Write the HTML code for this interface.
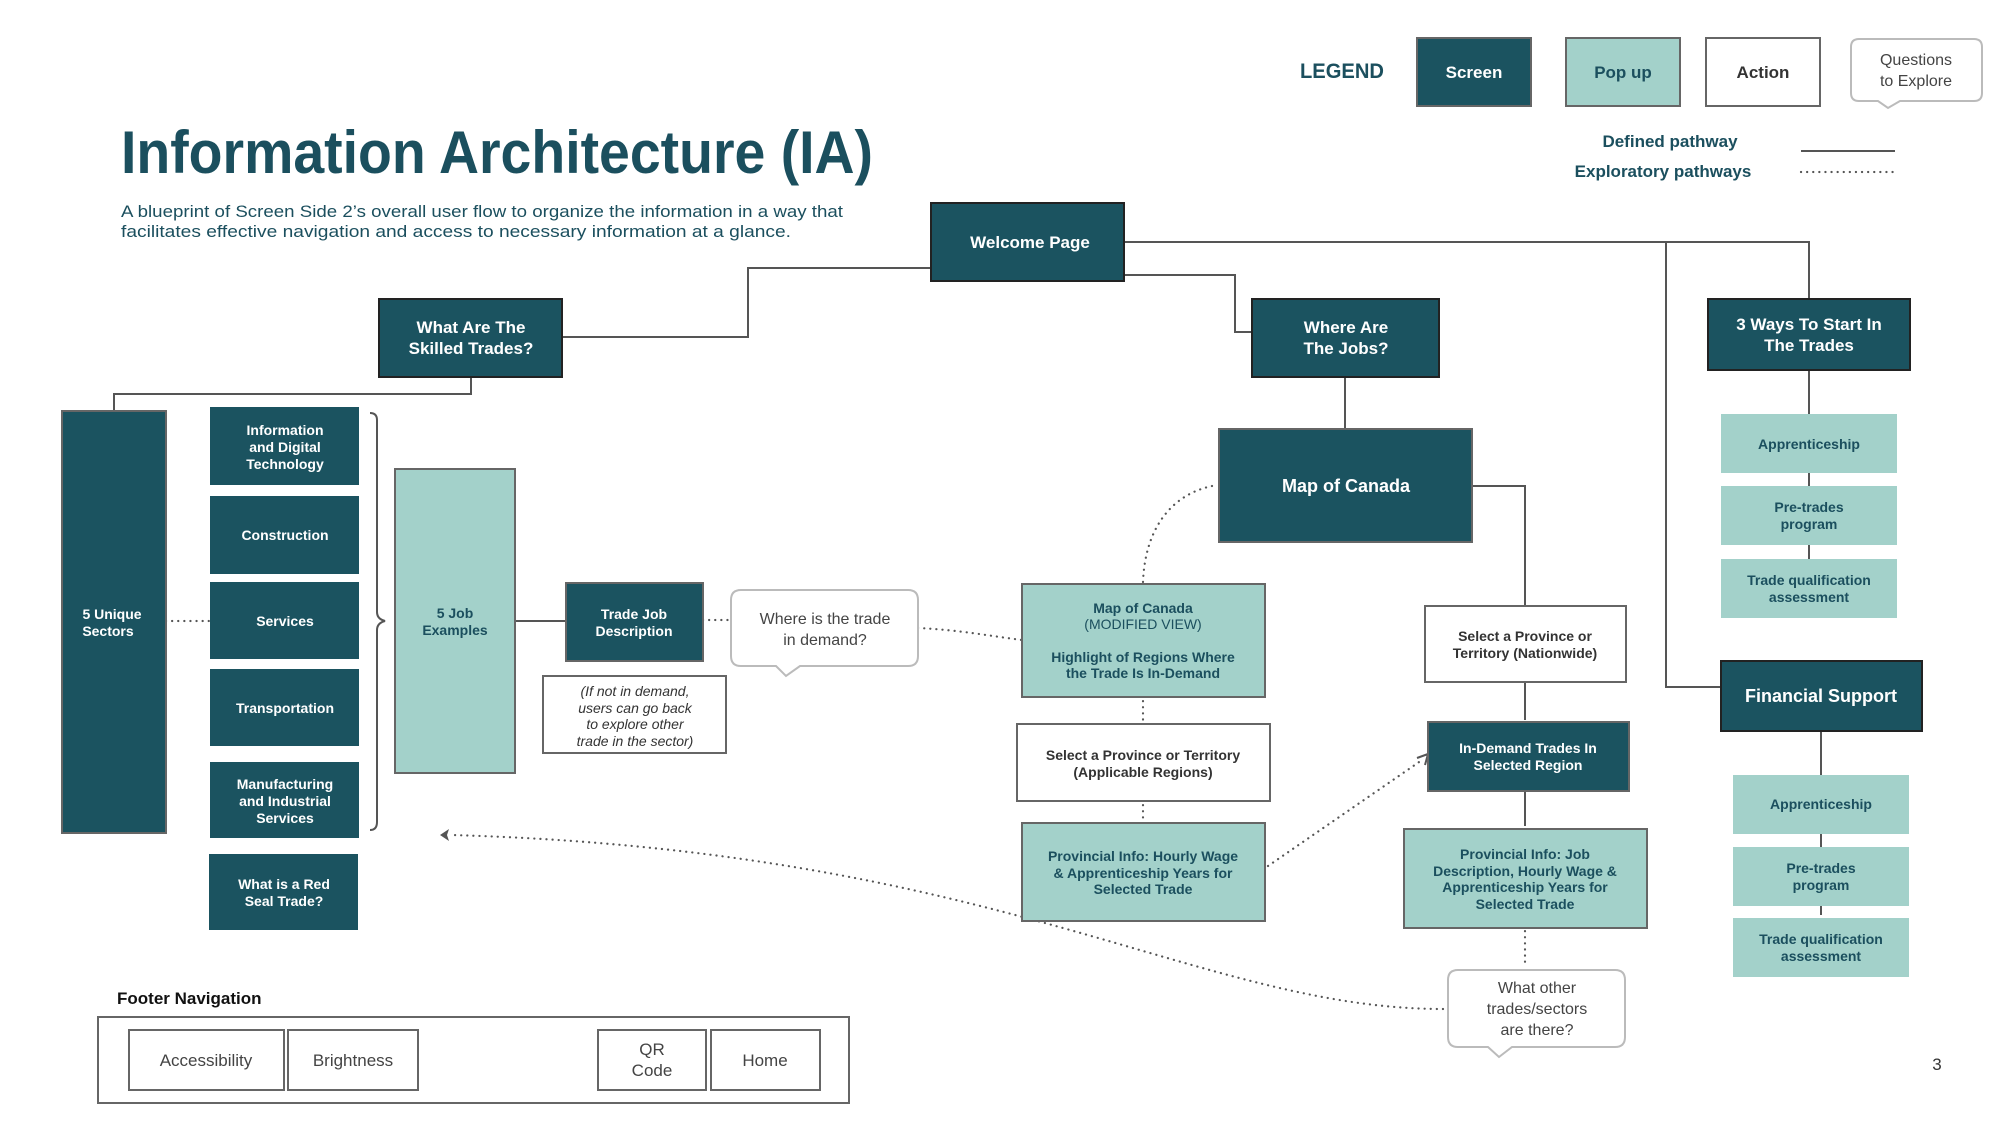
<!DOCTYPE html>
<html><head><meta charset="utf-8"><style>
html,body{margin:0;padding:0;background:#fff;}
svg{display:block;}
text{font-family:"Liberation Sans",sans-serif;}
.w{fill:#fff;font-weight:bold;}
.d{fill:#1b4f5e;font-weight:bold;}
.k{fill:#333;font-weight:bold;}
.n{fill:#444;}
</style></head><body>
<svg width="2000" height="1125" viewBox="0 0 2000 1125" xmlns="http://www.w3.org/2000/svg">
<defs>
<style>
.scr{fill:#1b5360;stroke:#222;stroke-width:2}
.scr2{fill:#1b5360;stroke:#666;stroke-width:2}
.pop{fill:#a3d1ca;stroke:#666;stroke-width:2}
.pop0{fill:#a3d1ca}
.act{fill:#fff;stroke:#666;stroke-width:2}
.ln{fill:none;stroke:#555;stroke-width:2}
.dt{fill:none;stroke:#555;stroke-width:2.2;stroke-dasharray:0.1 6;stroke-linecap:round}
</style>
</defs>

<text x="121" y="173" font-size="60" font-weight="bold" fill="#1b4f5e" textLength="752" lengthAdjust="spacingAndGlyphs">Information Architecture (IA)</text>
<text x="121" y="217" font-size="17" fill="#1b4f5e" textLength="722" lengthAdjust="spacingAndGlyphs">A blueprint of Screen Side 2’s overall user flow to organize the information in a way that</text>
<text x="121" y="237" font-size="17" fill="#1b4f5e" textLength="670" lengthAdjust="spacingAndGlyphs">facilitates effective navigation and access to necessary information at a glance.</text>

<text x="1342" y="78" font-size="21" text-anchor="middle" class="d" textLength="84" lengthAdjust="spacingAndGlyphs">LEGEND</text>
<rect x="1417" y="38" width="114" height="68" class="scr2"/>
<text x="1474" y="78" font-size="17" text-anchor="middle" class="w">Screen</text>
<rect x="1566" y="38" width="114" height="68" class="pop"/>
<text x="1623" y="78" font-size="17" text-anchor="middle" class="d">Pop up</text>
<rect x="1706" y="38" width="114" height="68" class="act"/>
<text x="1763" y="78" font-size="17" text-anchor="middle" class="k">Action</text>
<path d="M1859,39 H1974 Q1982,39 1982,47 V93 Q1982,101 1974,101 H1900 L1888,108 L1878,101 H1859 Q1851,101 1851,93 V47 Q1851,39 1859,39 Z" fill="#fff" stroke="#bbb" stroke-width="2"/>
<text x="1916" y="65" font-size="16" text-anchor="middle" class="n">Questions</text>
<text x="1916" y="86" font-size="16" text-anchor="middle" class="n">to Explore</text>
<text x="1670" y="147" font-size="17" text-anchor="middle" class="d">Defined pathway</text>
<line x1="1801" y1="151" x2="1895" y2="151" class="ln"/>
<text x="1663" y="177" font-size="17" text-anchor="middle" class="d">Exploratory pathways</text>
<line x1="1801" y1="172" x2="1895" y2="172" class="dt"/>

<path d="M931,268 H748 V337 H562" class="ln"/>
<path d="M471,377 V394 H114 V411" class="ln"/>
<path d="M1124,242 H1809 V299" class="ln"/>
<path d="M1666,242 V687 H1721" class="ln"/>
<path d="M1124,275 H1235 V332 H1252" class="ln"/>
<path d="M1345,377 V429" class="ln"/>
<path d="M1472,486 H1525 V605" class="ln"/>
<path d="M1525,681 V720 M1525,789 V826" class="ln"/>
<path d="M1809,370 V559" class="ln"/>
<path d="M1821,729 V915" class="ln"/>
<path d="M515,621 H566" class="ln"/>

<path d="M166,621 H210" class="dt"/>
<path d="M703,620 H731" class="dt"/>
<path d="M918,628 C960,630 990,636 1022,640" class="dt"/>
<path d="M1212,486 C1170,495 1145,530 1143,582" class="dt"/>
<path d="M1143,695 V722 M1143,799 V820" class="dt"/>
<path d="M1268,866 L1422,760" class="dt"/>
<path d="M1428,754 L1417,758 M1428,754 L1425,765" stroke="#555" stroke-width="2" fill="none"/>
<path d="M1525,925 V964" class="dt"/>
<path d="M1443,1009 C1200,1009 1000,850 450,835" class="dt"/>
<path d="M440,835 L449,829 L447,835 L449,841 Z" fill="#555"/>

<rect x="62" y="411" width="104" height="422" class="scr2"/>
<text x="112" y="619" font-size="14" text-anchor="middle" class="w">5 Unique</text>
<text x="108" y="636" font-size="14" text-anchor="middle" class="w">Sectors</text>

<rect x="210" y="407" width="149" height="78" fill="#1b5360"/>
<text x="285" y="435" font-size="14" text-anchor="middle" class="w">Information</text>
<text x="285" y="452" font-size="14" text-anchor="middle" class="w">and Digital</text>
<text x="285" y="469" font-size="14" text-anchor="middle" class="w">Technology</text>
<rect x="210" y="496" width="149" height="78" fill="#1b5360"/>
<text x="285" y="540" font-size="14" text-anchor="middle" class="w">Construction</text>
<rect x="210" y="582" width="149" height="77" fill="#1b5360"/>
<text x="285" y="626" font-size="14" text-anchor="middle" class="w">Services</text>
<rect x="210" y="669" width="149" height="77" fill="#1b5360"/>
<text x="285" y="713" font-size="14" text-anchor="middle" class="w">Transportation</text>
<rect x="210" y="762" width="149" height="76" fill="#1b5360"/>
<text x="285" y="789" font-size="14" text-anchor="middle" class="w">Manufacturing</text>
<text x="285" y="806" font-size="14" text-anchor="middle" class="w">and Industrial</text>
<text x="285" y="823" font-size="14" text-anchor="middle" class="w">Services</text>
<rect x="209" y="854" width="149" height="76" fill="#1b5360"/>
<text x="284" y="889" font-size="14" text-anchor="middle" class="w">What is a Red</text>
<text x="284" y="906" font-size="14" text-anchor="middle" class="w">Seal Trade?</text>

<path d="M370,413 Q377,413 377,420 V612 Q377,619 385,621 Q377,623 377,630 V822 Q377,830 370,830" fill="none" stroke="#555" stroke-width="2"/>

<rect x="395" y="469" width="120" height="304" class="pop"/>
<text x="455" y="618" font-size="14" text-anchor="middle" class="d">5 Job</text>
<text x="455" y="635" font-size="14" text-anchor="middle" class="d">Examples</text>

<rect x="566" y="583" width="137" height="78" class="scr2"/>
<text x="634" y="619" font-size="14" text-anchor="middle" class="w">Trade Job</text>
<text x="634" y="636" font-size="14" text-anchor="middle" class="w">Description</text>

<path d="M741,590 H908 Q918,590 918,600 V656 Q918,666 908,666 H800 L786,676 L776,666 H741 Q731,666 731,656 V600 Q731,590 741,590 Z" fill="#fff" stroke="#bbb" stroke-width="2"/>
<text x="825" y="624" font-size="16" text-anchor="middle" class="n">Where is the trade</text>
<text x="825" y="645" font-size="16" text-anchor="middle" class="n">in demand?</text>

<rect x="543" y="676" width="183" height="77" class="act"/>
<g font-size="14" font-style="italic" fill="#333" text-anchor="middle">
<text x="635" y="696">(If not in demand,</text>
<text x="635" y="713">users can go back</text>
<text x="635" y="729">to explore other</text>
<text x="635" y="746">trade in the sector)</text>
</g>

<rect x="931" y="203" width="193" height="78" class="scr"/>
<text x="1030" y="248" font-size="17" text-anchor="middle" class="w">Welcome Page</text>
<rect x="379" y="299" width="183" height="78" class="scr"/>
<text x="471" y="333" font-size="17" text-anchor="middle" class="w">What Are The</text>
<text x="471" y="354" font-size="17" text-anchor="middle" class="w">Skilled Trades?</text>
<rect x="1252" y="299" width="187" height="78" class="scr"/>
<text x="1346" y="333" font-size="17" text-anchor="middle" class="w">Where Are</text>
<text x="1346" y="354" font-size="17" text-anchor="middle" class="w">The Jobs?</text>
<rect x="1708" y="299" width="202" height="71" class="scr"/>
<text x="1809" y="330" font-size="17" text-anchor="middle" class="w">3 Ways To Start In</text>
<text x="1809" y="351" font-size="17" text-anchor="middle" class="w">The Trades</text>

<rect x="1219" y="429" width="253" height="113" class="scr2"/>
<text x="1346" y="492" font-size="18" text-anchor="middle" class="w">Map of Canada</text>

<rect x="1721" y="414" width="176" height="59" class="pop0"/>
<text x="1809" y="449" font-size="14" text-anchor="middle" class="d">Apprenticeship</text>
<rect x="1721" y="486" width="176" height="59" class="pop0"/>
<text x="1809" y="512" font-size="14" text-anchor="middle" class="d">Pre-trades</text>
<text x="1809" y="529" font-size="14" text-anchor="middle" class="d">program</text>
<rect x="1721" y="559" width="176" height="59" class="pop0"/>
<text x="1809" y="585" font-size="14" text-anchor="middle" class="d">Trade qualification</text>
<text x="1809" y="602" font-size="14" text-anchor="middle" class="d">assessment</text>

<rect x="1721" y="661" width="201" height="70" class="scr"/>
<text x="1821" y="702" font-size="18" text-anchor="middle" class="w">Financial Support</text>
<rect x="1733" y="775" width="176" height="59" class="pop0"/>
<text x="1821" y="809" font-size="14" text-anchor="middle" class="d">Apprenticeship</text>
<rect x="1733" y="847" width="176" height="59" class="pop0"/>
<text x="1821" y="873" font-size="14" text-anchor="middle" class="d">Pre-trades</text>
<text x="1821" y="890" font-size="14" text-anchor="middle" class="d">program</text>
<rect x="1733" y="918" width="176" height="59" class="pop0"/>
<text x="1821" y="944" font-size="14" text-anchor="middle" class="d">Trade qualification</text>
<text x="1821" y="961" font-size="14" text-anchor="middle" class="d">assessment</text>

<rect x="1022" y="584" width="243" height="113" class="pop"/>
<text x="1143" y="613" font-size="14" text-anchor="middle" class="d">Map of Canada</text>
<text x="1143" y="629" font-size="14" text-anchor="middle" fill="#1b4f5e">(MODIFIED VIEW)</text>
<text x="1143" y="662" font-size="14" text-anchor="middle" class="d">Highlight of Regions Where</text>
<text x="1143" y="678" font-size="14" text-anchor="middle" class="d">the Trade Is In-Demand</text>

<rect x="1017" y="724" width="253" height="77" class="act"/>
<text x="1143" y="760" font-size="14" text-anchor="middle" class="k">Select a Province or Territory</text>
<text x="1143" y="777" font-size="14" text-anchor="middle" class="k">(Applicable Regions)</text>

<rect x="1022" y="823" width="243" height="98" class="pop"/>
<text x="1143" y="861" font-size="14" text-anchor="middle" class="d">Provincial Info: Hourly Wage</text>
<text x="1143" y="878" font-size="14" text-anchor="middle" class="d">&amp; Apprenticeship Years for</text>
<text x="1143" y="894" font-size="14" text-anchor="middle" class="d">Selected Trade</text>

<rect x="1425" y="606" width="201" height="76" class="act"/>
<text x="1525" y="641" font-size="14" text-anchor="middle" class="k">Select a Province or</text>
<text x="1525" y="658" font-size="14" text-anchor="middle" class="k">Territory (Nationwide)</text>

<rect x="1428" y="722" width="201" height="69" class="scr2"/>
<text x="1528" y="753" font-size="14" text-anchor="middle" class="w">In-Demand Trades In</text>
<text x="1528" y="770" font-size="14" text-anchor="middle" class="w">Selected Region</text>

<rect x="1404" y="829" width="243" height="99" class="pop"/>
<text x="1525" y="859" font-size="14" text-anchor="middle" class="d">Provincial Info: Job</text>
<text x="1525" y="876" font-size="14" text-anchor="middle" class="d">Description, Hourly Wage &amp;</text>
<text x="1525" y="892" font-size="14" text-anchor="middle" class="d">Apprenticeship Years for</text>
<text x="1525" y="909" font-size="14" text-anchor="middle" class="d">Selected Trade</text>

<path d="M1458,970 H1615 Q1625,970 1625,980 V1037 Q1625,1047 1615,1047 H1512 L1499,1057 L1488,1047 H1458 Q1448,1047 1448,1037 V980 Q1448,970 1458,970 Z" fill="#fff" stroke="#bbb" stroke-width="2"/>
<text x="1537" y="993" font-size="16" text-anchor="middle" class="n">What other</text>
<text x="1537" y="1014" font-size="16" text-anchor="middle" class="n">trades/sectors</text>
<text x="1537" y="1035" font-size="16" text-anchor="middle" class="n">are there?</text>

<text x="117" y="1004" font-size="17" font-weight="bold" fill="#111">Footer Navigation</text>
<rect x="98" y="1017" width="751" height="86" fill="#fff" stroke="#666" stroke-width="2"/>
<rect x="129" y="1030" width="155" height="60" class="act"/>
<text x="206" y="1066" font-size="17" text-anchor="middle" class="n">Accessibility</text>
<rect x="288" y="1030" width="130" height="60" class="act"/>
<text x="353" y="1066" font-size="17" text-anchor="middle" class="n">Brightness</text>
<rect x="598" y="1030" width="108" height="60" class="act"/>
<text x="652" y="1055" font-size="17" text-anchor="middle" class="n">QR</text>
<text x="652" y="1076" font-size="17" text-anchor="middle" class="n">Code</text>
<rect x="711" y="1030" width="109" height="60" class="act"/>
<text x="765" y="1066" font-size="17" text-anchor="middle" class="n">Home</text>

<text x="1937" y="1070" font-size="17" text-anchor="middle" fill="#333">3</text>
</svg>
</body></html>
